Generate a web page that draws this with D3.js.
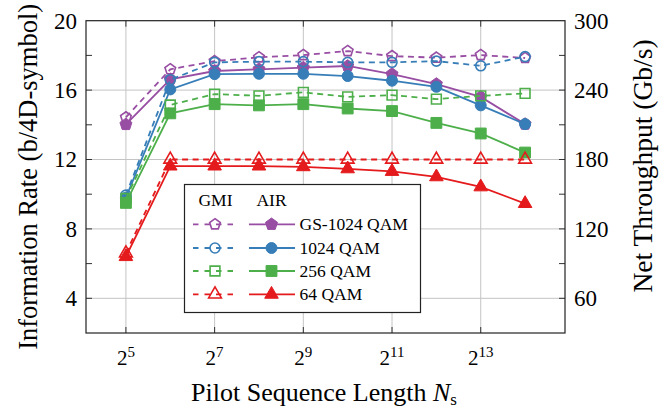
<!DOCTYPE html>
<html>
<head>
<meta charset="utf-8">
<script src="https://cdn.jsdelivr.net/npm/d3@7"></script>
<style>
  html, body { margin: 0; padding: 0; background: #fff; }
  svg { display: block; }
  text { font-family: "Liberation Serif", "Times New Roman", serif; fill: #000; }
</style>
</head>
<body>
<svg id="chart" width="672" height="410"></svg>
<script>
// Pilot sequence length exponents (N_s = 2^k)
const exponents = [5, 6, 7, 8, 9, 10, 11, 12, 13, 14];

// Information rates in b/4D-symbol
const gs1024Gmi = [14.43, 17.20, 17.67, 17.89, 18.02, 18.25, 17.96, 17.87, 18.02, 17.85];
const gs1024Air = [14.02, 16.62, 17.10, 17.20, 17.29, 17.39, 16.92, 16.35, 15.61, 14.04];
const qam1024Gmi = [9.95, 16.60, 17.60, 17.64, 17.64, 17.60, 17.60, 17.67, 17.40, 17.93];
const qam1024Air = [9.80, 16.04, 16.92, 16.94, 16.94, 16.81, 16.54, 16.19, 15.12, 14.04];
const qam256Gmi = [9.75, 15.14, 15.77, 15.67, 15.87, 15.61, 15.71, 15.48, 15.67, 15.81];
const qam256Air = [9.50, 14.66, 15.19, 15.12, 15.19, 14.94, 14.79, 14.11, 13.50, 12.40];
const qam64Gmi = [6.60, 12.00, 12.00, 12.00, 12.00, 12.00, 12.00, 12.00, 12.00, 12.00];
const qam64Air = [6.40, 11.62, 11.62, 11.62, 11.58, 11.46, 11.31, 11.00, 10.42, 9.46];

// Axis ticks
const xTickExps = [5, 7, 9, 11, 13];
const yLeftTicks = [4, 8, 12, 16, 20];
const yRightTicks = [60, 120, 180, 240, 300];
const yMinorTicks = [6, 10, 14, 18];
const throughputPerRate = 15; // Gb/s per b/4D-symbol

const seriesNames = ["GS-1024 QAM", "1024 QAM", "256 QAM", "64 QAM"];
const seriesColors = ["#984ea3", "#377eb8", "#4daf4a", "#e41a1c"];
const seriesMarkers = ["pentagon", "circle", "square", "triangle"];
const gmiSeries = [gs1024Gmi, qam1024Gmi, qam256Gmi, qam64Gmi];
const airSeries = [gs1024Air, qam1024Air, qam256Air, qam64Air];

const svg = d3.select("#chart");
const plot = { left: 86, right: 565, top: 20.7, bottom: 333 };

const x = d3.scaleLinear().domain([4.1, 14.9]).range([plot.left, plot.right]);
const y = d3.scaleLinear().domain([2, 20]).range([plot.bottom, plot.top]);
const yRight = d3.scaleLinear().domain([2 * throughputPerRate, 20 * throughputPerRate]).range([plot.bottom, plot.top]);

// Grid
const grid = svg.append("g").attr("stroke", "#c4c4c4").attr("stroke-width", 1);
xTickExps.forEach(e => {
  grid.append("line").attr("x1", x(e)).attr("x2", x(e)).attr("y1", plot.top).attr("y2", plot.bottom);
});
yLeftTicks.filter(v => v < 20).forEach(v => {
  grid.append("line").attr("x1", plot.left).attr("x2", plot.right).attr("y1", y(v)).attr("y2", y(v));
});

// Inward ticks on all four sides
const ticks = svg.append("g").attr("stroke", "#333").attr("stroke-width", 1);
const tickLen = 6;
yLeftTicks.concat(yMinorTicks).filter(v => v < 20).forEach(v => {
  ticks.append("line").attr("x1", plot.left).attr("x2", plot.left + tickLen).attr("y1", y(v)).attr("y2", y(v));
  ticks.append("line").attr("x1", plot.right).attr("x2", plot.right - tickLen).attr("y1", y(v)).attr("y2", y(v));
});
xTickExps.forEach(e => {
  ticks.append("line").attr("x1", x(e)).attr("x2", x(e)).attr("y1", plot.bottom).attr("y2", plot.bottom - tickLen);
  ticks.append("line").attr("x1", x(e)).attr("x2", x(e)).attr("y1", plot.top).attr("y2", plot.top + tickLen);
});

// Marker shapes
function pentagonPath(r) {
  const pts = d3.range(5).map(i => {
    const a = -Math.PI / 2 + i * 2 * Math.PI / 5;
    return [r * Math.cos(a), r * Math.sin(a)];
  });
  return "M" + pts.map(p => p[0].toFixed(2) + "," + p[1].toFixed(2)).join("L") + "Z";
}
function markerPath(kind) {
  if (kind === "pentagon") return pentagonPath(6.3);
  if (kind === "circle") return d3.symbol(d3.symbolCircle, 95)();
  if (kind === "square") return d3.symbol(d3.symbolSquare, 118)();
  return d3.symbol(d3.symbolTriangle, 80)();
}
function markerPathOpen(kind) {
  if (kind === "pentagon") return pentagonPath(5.6);
  if (kind === "circle") return d3.symbol(d3.symbolCircle, 78)();
  if (kind === "square") return d3.symbol(d3.symbolSquare, 96)();
  return d3.symbol(d3.symbolTriangle, 70)();
}

const line = d3.line().x(d => x(d[0])).y(d => y(d[1]));
const curves = svg.append("g");

function drawSeries(values, color, kind, dashed) {
  const pts = exponents.map((e, i) => [e, values[i]]);
  const g = curves.append("g");
  g.append("path")
    .attr("d", line(pts))
    .attr("fill", "none")
    .attr("stroke", color)
    .attr("stroke-width", 1.8)
    .attr("stroke-dasharray", dashed ? "6,4.5" : null);
  g.selectAll("path.mk").data(pts).enter().append("path")
    .attr("class", "mk")
    .attr("transform", d => `translate(${x(d[0])},${y(d[1])})`)
    .attr("d", dashed ? markerPathOpen(kind) : markerPath(kind))
    .attr("fill", dashed ? "none" : color)
    .attr("stroke", color)
    .attr("stroke-width", dashed ? 1.6 : 1);
}

seriesNames.forEach((name, i) => {
  drawSeries(gmiSeries[i], seriesColors[i], seriesMarkers[i], true);
  drawSeries(airSeries[i], seriesColors[i], seriesMarkers[i], false);
});

// Plot frame
svg.append("rect")
  .attr("x", plot.left).attr("y", plot.top)
  .attr("width", plot.right - plot.left).attr("height", plot.bottom - plot.top)
  .attr("fill", "none").attr("stroke", "#222").attr("stroke-width", 1.2);

// Left tick labels
svg.append("g").selectAll("text").data(yLeftTicks).enter().append("text")
  .attr("x", plot.left - 9).attr("y", d => y(d)).attr("dy", "0.34em")
  .attr("text-anchor", "end").attr("font-size", 23)
  .text(d => d);

// Right tick labels
svg.append("g").selectAll("text").data(yRightTicks).enter().append("text")
  .attr("x", plot.right + 9).attr("y", d => yRight(d)).attr("dy", "0.34em")
  .attr("text-anchor", "start").attr("font-size", 23)
  .text(d => d);

// Bottom tick labels 2^k
const xl = svg.append("g").selectAll("text").data(xTickExps).enter().append("text")
  .attr("x", d => x(d)).attr("y", 365)
  .attr("text-anchor", "middle").attr("font-size", 21);
xl.append("tspan").text("2");
xl.append("tspan").attr("dy", -8).attr("font-size", 15).text(d => d);

// Axis titles
svg.append("text")
  .attr("transform", `translate(37,${(plot.top + plot.bottom) / 2}) rotate(-90)`)
  .attr("text-anchor", "middle").attr("font-size", 26.5)
  .text("Information Rate (b/4D-symbol)");

svg.append("text")
  .attr("transform", `translate(652,166) rotate(-90)`)
  .attr("text-anchor", "middle").attr("font-size", 27.5)
  .text("Net Throughput (Gb/s)");

const xt = svg.append("text")
  .attr("x", 324).attr("y", 401)
  .attr("text-anchor", "middle").attr("font-size", 26);
xt.append("tspan").text("Pilot Sequence Length ");
xt.append("tspan").attr("font-style", "italic").text("N");
xt.append("tspan").attr("font-size", 17).attr("dy", 4).text("s");

// Legend
const lg = svg.append("g");
lg.append("rect")
  .attr("x", 184.5).attr("y", 184.5).attr("width", 236).attr("height", 128)
  .attr("fill", "#fff").attr("stroke", "#222").attr("stroke-width", 1.2);
lg.append("text").attr("x", 215.5).attr("y", 206).attr("text-anchor", "middle")
  .attr("font-size", 17.5).text("GMI");
lg.append("text").attr("x", 271.5).attr("y", 206).attr("text-anchor", "middle")
  .attr("font-size", 17.5).text("AIR");

const rowY = [224.3, 248, 271, 294.3];
seriesNames.forEach((name, i) => {
  const ry = rowY[i];
  const c = seriesColors[i];
  lg.append("line").attr("x1", 193).attr("x2", 233).attr("y1", ry).attr("y2", ry)
    .attr("stroke", c).attr("stroke-width", 1.8).attr("stroke-dasharray", "5.5,6");
  lg.append("path").attr("transform", `translate(215,${ry})`)
    .attr("d", markerPathOpen(seriesMarkers[i]).toString())
    .attr("fill", "none").attr("stroke", c).attr("stroke-width", 1.6);
  lg.append("line").attr("x1", 249).attr("x2", 295).attr("y1", ry).attr("y2", ry)
    .attr("stroke", c).attr("stroke-width", 1.8);
  lg.append("path").attr("transform", `translate(271.5,${ry})`)
    .attr("d", markerPath(seriesMarkers[i]).toString())
    .attr("fill", c).attr("stroke", c).attr("stroke-width", 1);
  lg.append("text").attr("x", 299.5).attr("y", ry).attr("dy", "0.34em")
    .attr("font-size", 17.5).text(name);
});
</script>
</body>
</html>
